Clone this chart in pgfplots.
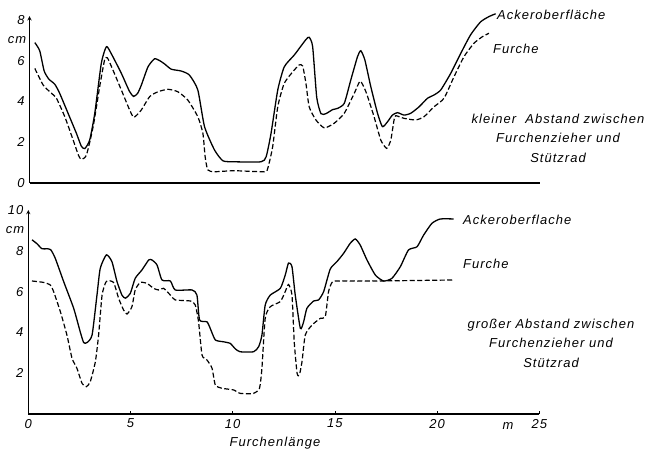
\documentclass[border=0pt]{standalone}
\usepackage{fontspec}
\setmainfont{Liberation Sans}[LetterSpace=8]
\usepackage{pgfplots}
\pgfplotsset{compat=1.18}
\newcommand{\lf}{\fontsize{13}{19.5}\selectfont\itshape}
\pgfplotsset{
  furche/.style={scale only axis, clip=false,
    xmin=0, xmax=25, ymin=0,
    tick label style={font=\lf, /pgf/number format/assume math mode=true},
    tick style={black, line width=0.8bp},
    major tick length=3bp,
    every outer x axis line/.append style={-},
    every outer y axis line/.append style={-},
    y axis line style={-, line width=0.9bp},
  },
  surf/.style={black, line width=1.3bp, smooth, tension=0.35},
  furr/.style={black, line width=1.2bp, smooth, tension=0.35, dash pattern=on 5bp off 2.5bp},
}
\begin{document}
\begin{tikzpicture}
\path[use as bounding box] (0,0) rectangle (652bp,455bp);
% ---------- top panel ----------
\begin{axis}[furche, at={(29.5bp,272.3bp)}, anchor=south west,
  width=510bp, height=166.5bp, ymax=8.2,
  axis x line=bottom, axis y line=left,
  x axis line style={-, line width=1.8bp},
  xtick=\empty, ytick={0,2,4,6,8}, yticklabels={0,2,4,6,8},
  ytick style={draw=none}]
\addplot[surf] coordinates {
(0.26,6.9) (0.5,6.5) (0.72,5.5) (0.95,5.1) (1.24,4.85) (1.48,4.4) (1.89,3.42) (2.3,2.43) (2.54,1.8) (2.71,1.68) (2.95,2.1) (3.2,3.42) (3.52,5.88) (3.77,6.7) (4.0,6.37) (4.5,5.39) (4.9,4.5) (5.1,4.25) (5.3,4.4) (5.48,4.8) (5.81,5.71) (6.13,6.1) (6.4,6.0) (6.62,5.85) (6.95,5.59) (7.44,5.5) (7.84,5.3) (8.25,4.57) (8.58,2.76) (9.07,1.61) (9.48,1.08) (10.04,1.03) (11.35,1.03) (11.6,1.28) (11.84,2.43) (12.17,4.57) (12.49,5.71) (12.98,6.29) (13.55,7.05) (13.71,7.16) (13.88,6.7) (14.08,4.2) (14.29,3.4) (14.53,3.4) (14.86,3.6) (15.1,3.66) (15.43,3.91) (15.75,5.06) (16.08,6.21) (16.24,6.5) (16.44,6.04) (16.73,4.73) (17.06,3.42) (17.3,2.76) (17.55,3.0) (17.79,3.33) (18.04,3.45) (18.36,3.33) (18.69,3.42) (19.1,3.74) (19.51,4.16) (19.83,4.32) (20.16,4.57) (20.65,5.39) (21.14,6.37) (21.62,7.28) (22.11,7.92) (22.52,8.18) (22.85,8.32)
};
\addplot[furr] coordinates {
(0.26,5.63) (0.67,4.81) (1.08,4.4) (1.32,4.16) (1.73,3.25) (2.14,2.1) (2.4,1.35) (2.54,1.15) (2.79,1.36) (3.12,2.76) (3.44,4.73) (3.68,6.04) (3.82,6.15) (4.09,5.55) (4.5,4.57) (4.91,3.58) (5.12,3.22) (5.48,3.58) (5.89,4.24) (6.3,4.48) (6.79,4.6) (7.27,4.48) (7.76,4.07) (8.25,3.25) (8.5,2.43) (8.61,1.28) (8.74,0.63) (9.07,0.54) (10.04,0.59) (11.51,0.54) (11.68,0.71) (11.92,1.77) (12.17,3.74) (12.49,4.9) (12.98,5.55) (13.22,5.8) (13.39,5.75) (13.55,4.9) (13.71,3.74) (14.04,3.09) (14.45,2.7) (14.94,2.93) (15.43,3.42) (15.92,4.4) (16.21,5.0) (16.49,4.48) (16.89,3.25) (17.22,2.1) (17.51,1.69) (17.71,2.1) (17.87,3.09) (17.95,3.3) (18.36,3.17) (18.93,3.09) (19.34,3.25) (19.83,3.74) (20.32,4.16) (20.81,5.22) (21.3,6.21) (21.79,6.87) (22.2,7.19) (22.52,7.36)
};
\end{axis}
% ---------- bottom panel ----------
\begin{axis}[furche, at={(28.3bp,41bp)}, anchor=south west,
  width=511bp, height=204bp, ymax=10,
  axis x line=bottom, axis y line=left,
  x axis line style={-, line width=1.5bp},
  xtick={0,5,10,15,20,25}, xticklabels={0,5,10,15,20,25},
  xtick style={yshift=1.5bp},
  ytick={2,4,6,8,10}, yticklabels={2,4,6,8,10},
  ytick style={draw=none}]
\addplot[surf] coordinates {
(0.18,8.54) (0.42,8.35) (0.67,8.1) (0.91,8.1) (1.1,8.05) (1.32,7.63) (1.73,6.49) (2.22,5.18) (2.54,4.03) (2.71,3.5) (2.87,3.5) (3.12,3.87) (3.36,5.83) (3.52,7.14) (3.82,7.8) (4.09,7.47) (4.34,6.49) (4.58,5.83) (4.75,5.68) (4.99,5.91) (5.23,6.65) (5.56,7.06) (5.89,7.55) (6.05,7.55) (6.3,7.3) (6.54,6.57) (6.95,6.52) (7.19,6.08) (8.01,6.08) (8.25,5.83) (8.38,4.61) (8.74,4.52) (8.9,4.2) (9.15,3.63) (9.55,3.54) (9.88,3.46) (10.13,3.19) (10.37,3.05) (11.02,3.05) (11.27,3.3) (11.43,3.87) (11.59,5.34) (11.84,5.83) (12.33,6.16) (12.57,6.81) (12.73,7.4) (12.9,7.22) (13.06,5.83) (13.31,4.2) (13.47,4.52) (13.63,5.18) (13.96,5.54) (14.2,5.59) (14.45,6.0) (14.77,7.1) (15.1,7.47) (15.43,7.88) (15.75,8.37) (16.0,8.58) (16.24,8.28) (16.57,7.55) (16.98,6.81) (17.38,6.52) (17.79,6.65) (18.2,7.22) (18.6,8.04) (19.02,8.2) (19.34,8.77) (19.75,9.35) (20.16,9.56) (20.81,9.56)
};
\addplot[furr] coordinates {
(0.18,6.52) (0.75,6.45) (1.08,6.32) (1.24,6.0) (1.57,5.01) (1.89,3.87) (2.14,2.73) (2.38,2.24) (2.63,1.5) (2.84,1.34) (3.03,1.58) (3.28,2.56) (3.44,3.87) (3.61,5.83) (3.82,6.5) (4.17,6.45) (4.42,5.67) (4.66,5.1) (4.83,4.9) (5.07,5.26) (5.23,6.08) (5.48,6.45) (5.81,6.4) (6.13,6.16) (6.37,6.08) (6.62,6.16) (6.95,5.83) (7.19,5.59) (7.93,5.54) (8.17,5.34) (8.33,4.52) (8.5,2.89) (8.74,2.65) (8.99,2.24) (9.15,1.42) (9.48,1.26) (10.04,1.18) (10.37,1.01) (11.02,1.01) (11.31,1.26) (11.43,2.24) (11.59,4.69) (11.84,5.26) (12.33,5.51) (12.57,6.0) (12.73,6.35) (12.9,5.83) (13.01,3.54) (13.15,2.0) (13.26,1.91) (13.39,2.56) (13.55,3.87) (13.88,4.36) (14.29,4.69) (14.53,4.77) (14.69,6.0) (14.86,6.45) (15.1,6.52) (17,6.52) (20.81,6.57)
};
\end{axis}
% ---------- texts ----------
\node[font=\lf, anchor=center] at (17bp,415bp) {cm};
\node[font=\lf, anchor=center] at (15bp,225bp) {cm};
\node[font=\lf, anchor=west, inner sep=0pt] at (497bp,440bp) {Ackeroberfläche};
\node[font=\lf, anchor=west, inner sep=0pt] at (493bp,406bp) {Furche};
\node[font=\lf, align=center, inner sep=0pt] at (558bp,317bp) {kleiner\ \ Abstand zwischen\\Furchenzieher und\\Stützrad};
\node[font=\lf, anchor=west, inner sep=0pt] at (463bp,235bp) {Ackeroberflache};
\node[font=\lf, anchor=west, inner sep=0pt] at (463bp,191bp) {Furche};
\node[font=\lf, align=center, inner sep=0pt] at (551bp,112bp) {großer Abstand zwischen\\Furchenzieher und\\Stützrad};
\node[font=\lf, anchor=center] at (508bp,29bp) {m};
\node[font=\lf, anchor=center] at (275bp,12bp) {Furchenlänge};
\end{tikzpicture}
\end{document}
